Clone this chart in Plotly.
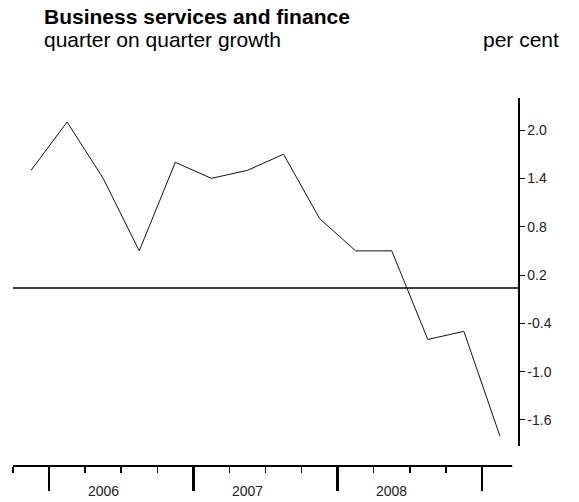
import plotly.graph_objects as go

# ---- data ----
quarters = ["2005Q4", "2006Q1", "2006Q2", "2006Q3", "2006Q4",
            "2007Q1", "2007Q2", "2007Q3", "2007Q4",
            "2008Q1", "2008Q2", "2008Q3", "2008Q4", "2009Q1"]
growth = [1.5, 2.1, 1.4, 0.5, 1.6, 1.4, 1.5, 1.7, 0.9, 0.5, 0.5, -0.6, -0.5, -1.8]
years = [2006, 2007, 2008]
year_labels = ["2006", "2007", "2008"]
y_tickvals = [-1.6, -1.0, -0.4, 0.2, 0.8, 1.4, 2.0]
y_ticktext = ["-1.6", "-1.0", "-0.4", "0.2", "0.8", "1.4", "2.0"]
ref_level = 0.04

title = "Business services and finance"
subtitle = "quarter on quarter growth"
unit = "per cent"

FONT = "Liberation Sans, Arial, sans-serif"


def q_start(q):
    y, n = q.split("Q")
    return int(y) + (int(n) - 1) / 4


x_mid = [q_start(q) + 0.125 for q in quarters]
x_lo = q_start(quarters[0])
x_hi = q_start(quarters[-1]) + 0.25
major = [y for y in range(int(x_lo) + 1, int(x_hi) + 1)]
minor_vals = [q_start(q) for q in quarters if q_start(q) not in major]

W, H = 579, 502
ML, MR, MT, MB = 13, 61, 98, 36
plot_h = H - MT - MB
y_dom0 = 20.5 / plot_h

fig = go.Figure()
fig.add_trace(go.Scatter(x=x_mid, y=growth, mode="lines",
                         line=dict(color="#111111", width=1),
                         hoverinfo="skip", showlegend=False))

fig.update_layout(
    width=W, height=H,
    margin=dict(l=ML, r=MR, t=MT, b=MB, pad=0),
    paper_bgcolor="white", plot_bgcolor="white",
    font=dict(family=FONT, color="black", size=14),
    xaxis=dict(range=[x_lo, x_hi], anchor="free", position=0,
               showline=False, showgrid=False, zeroline=False,
               tickmode="array", tickvals=major, showticklabels=False,
               ticks="outside", ticklen=24, tickwidth=2.5, tickcolor="black",
               minor=dict(tickmode="array", tickvals=minor_vals, ticks="outside",
                          ticklen=6, tickwidth=1.5, tickcolor="black", showgrid=False)),
    yaxis=dict(range=[-1.917, 2.398], domain=[y_dom0, 1], side="right",
               anchor="x", showline=True, linecolor="black", linewidth=1.5,
               showgrid=False, zeroline=False,
               tickmode="array", tickvals=y_tickvals, ticktext=y_ticktext,
               ticks="outside", ticklen=5, tickwidth=1, tickcolor="black",
               tickfont=dict(size=14, family=FONT, color="#222222")),
)

# reference line and x-axis line
fig.add_shape(type="line", xref="paper", yref="y", x0=0, x1=1,
              y0=ref_level, y1=ref_level, line=dict(color="black", width=1.5))
fig.add_shape(type="line", xref="x", yref="paper", x0=x_lo, x1=x_hi - 0.04,
              y0=0, y1=0, line=dict(color="black", width=2))


def py(pix):
    return (H - MB - pix) / plot_h


def px(pix):
    return (pix - ML) / (W - ML - MR)


for yr, lab in zip(years, year_labels):
    fig.add_annotation(x=yr + 0.375, xref="x", y=py(491), yref="paper",
                       text=lab, showarrow=False, xanchor="center", yanchor="middle",
                       font=dict(size=14, family=FONT, color="#222222"))

fig.add_annotation(x=px(42), xref="paper", y=py(16), yref="paper", text="<b>" + title + "</b>",
                   showarrow=False, xanchor="left", yanchor="middle",
                   font=dict(size=21, family=FONT, color="black"))
fig.add_annotation(x=px(42), xref="paper", y=py(39.5), yref="paper", text=subtitle,
                   showarrow=False, xanchor="left", yanchor="middle",
                   font=dict(size=21, family=FONT, color="black"))
fig.add_annotation(x=px(561), xref="paper", y=py(39.5), yref="paper", text=unit,
                   showarrow=False, xanchor="right", yanchor="middle",
                   font=dict(size=21, family=FONT, color="black"))

fig.write_html("out.html",
               config={"displayModeBar": False, "staticPlot": True},
               post_script="document.body.style.margin='0';document.body.style.overflow='hidden';")
